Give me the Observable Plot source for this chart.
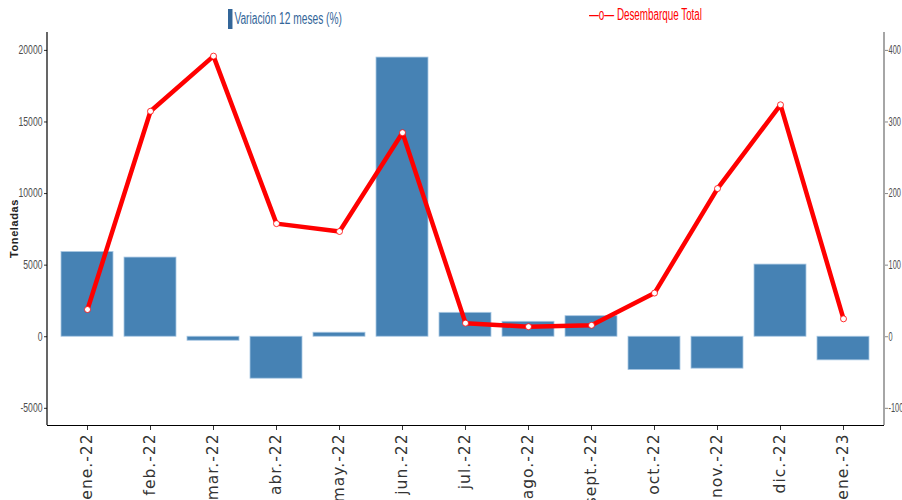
<!DOCTYPE html>
<html>
<head>
<meta charset="utf-8">
<script src="https://cdn.jsdelivr.net/npm/d3@7"></script>
<script src="https://cdn.jsdelivr.net/npm/@observablehq/plot@0.6"></script>
<style>
  html, body { margin: 0; padding: 0; background: #fff; }
  #wrap { position: relative; width: 902px; height: 500px; overflow: hidden; }
  .leg { position: absolute; font-family: "Liberation Sans", Arial, sans-serif; font-size: 16px; white-space: nowrap; transform-origin: 0 50%; }
  #leg1 { left: 228px; top: 9px; color: #336699; }
  #leg1 .sw { display: inline-block; width: 7px; height: 20px; background: #336699; vertical-align: middle; margin-right: 3px; }
  #leg2 { left: 589px; top: 6px; color: #ff0000; }
  svg text { font-family: "Liberation Sans", Arial, sans-serif; }
</style>
</head>
<body>
<div id="wrap">
  <div id="chart"></div>
  <div class="leg" id="leg1"><span class="sw"></span><span style="vertical-align:middle">Variación 12 meses (%)</span></div>
  <div class="leg" id="leg2">—o— Desembarque Total</div>
</div>
<script>
const months = ["ene.-22","feb.-22","mar.-22","abr.-22","may.-22","jun.-22","jul.-22","ago.-22","sept.-22","oct.-22","nov.-22","dic.-22","ene.-23"];
// Bars (left axis, Toneladas)
const barValues = [5920, 5530, -280, -2930, 280, 19500, 1670, 1045, 1435, -2330, -2230, 5040, -1650];
// Line (right axis)
const lineValues = [38, 315, 392, 158, 147, 285, 19, 14, 16, 61, 207, 324, 25];
const leftTicks = [-5000, 0, 5000, 10000, 15000, 20000];
const rightTicks = [-100, 0, 100, 200, 300, 400];
const ratio = 50; // right axis unit -> left axis unit
const yDomain = [-6200, 21250];

const bars = months.map((m, i) => ({month: m, value: barValues[i]}));
const pts = months.map((m, i) => ({month: m, value: lineValues[i], scaled: lineValues[i] * ratio}));

const W = 902, H = 500, mT = 32, mL = 47, mR = 18, mB = 75;

const chart = Plot.plot({
  width: W, height: H,
  marginTop: mT, marginLeft: mL, marginRight: mR, marginBottom: mB,
  style: {background: "white", color: "#4d4d4d"},
  x: {type: "band", domain: months, paddingInner: 0.17, paddingOuter: 0.185, align: 0.5, label: null},
  y: {domain: yDomain, label: null},
  marks: [
    Plot.barY(bars, {x: "month", y: "value", fill: "#4682b4", stroke: "#a9c8e3", strokeWidth: 0.8}),
    Plot.axisY({anchor: "left", ticks: leftTicks, tickFormat: d => String(d), tickSize: 3, tickPadding: 2, fontSize: 12, fill: "#4d4d4d", stroke: "#333", label: null}),
    Plot.axisY({anchor: "right", ticks: rightTicks.map(d => d * ratio), tickFormat: d => String(Math.round(d / ratio)), tickSize: 3, tickPadding: 1, fontSize: 12, fill: "#4d4d4d", stroke: "#888", label: null}),
    Plot.axisX({anchor: "bottom", tickRotate: -90, tickSize: 5, tickPadding: 3, fontSize: 15.5, fill: "#333", stroke: "#333", label: null}),
    Plot.ruleY([yDomain[0]], {stroke: "#000", strokeWidth: 1.2}),
    Plot.line(pts, {x: "month", y: "scaled", stroke: "#ff0000", strokeWidth: 4.5, curve: "linear"}),
    Plot.dot(pts, {x: "month", y: "scaled", r: 3, fill: "white", stroke: "#ff0000", strokeWidth: 0.8})
  ]
});
document.getElementById("chart").appendChild(chart);

const svg = d3.select(chart);
svg.selectAll('g[aria-label="x-axis tick label"] text')
  .style("font-family", "'DejaVu Sans', sans-serif").style("letter-spacing", "1px");
// condensed y tick labels
svg.selectAll('g[aria-label="y-axis tick label"] text').each(function () {
  const len = this.getComputedTextLength();
  const right = this.closest("g").getAttribute("text-anchor") === "start";
  this.setAttribute("textLength", (len * (right ? 0.62 : 0.72)).toFixed(1));
  this.setAttribute("lengthAdjust", "spacingAndGlyphs");
});
svg.append("line").attr("x1", mL).attr("x2", mL).attr("y1", mT).attr("y2", H - mB).attr("stroke", "#000").attr("stroke-width", 1.2);
svg.append("line").attr("x1", W - mR).attr("x2", W - mR).attr("y1", mT).attr("y2", H - mB).attr("stroke", "#888").attr("stroke-width", 1.5);
svg.append("text").attr("transform", `translate(15,${(mT + H - mB) / 2}) rotate(-90)`)
  .attr("text-anchor", "middle").attr("dominant-baseline", "middle")
  .style("font-family", "'Liberation Sans', Arial, sans-serif").style("font-size", "11px").style("font-weight", "bold").style("letter-spacing", "0.6px").attr("fill", "#222")
  .text("Toneladas");

// condense legend texts to the reference widths
function condense(id, target) {
  const el = document.getElementById(id);
  const w = el.getBoundingClientRect().width;
  el.style.transform = `scaleX(${target / w})`;
}
condense("leg1", 114);
condense("leg2", 113);
</script>
</body>
</html>
